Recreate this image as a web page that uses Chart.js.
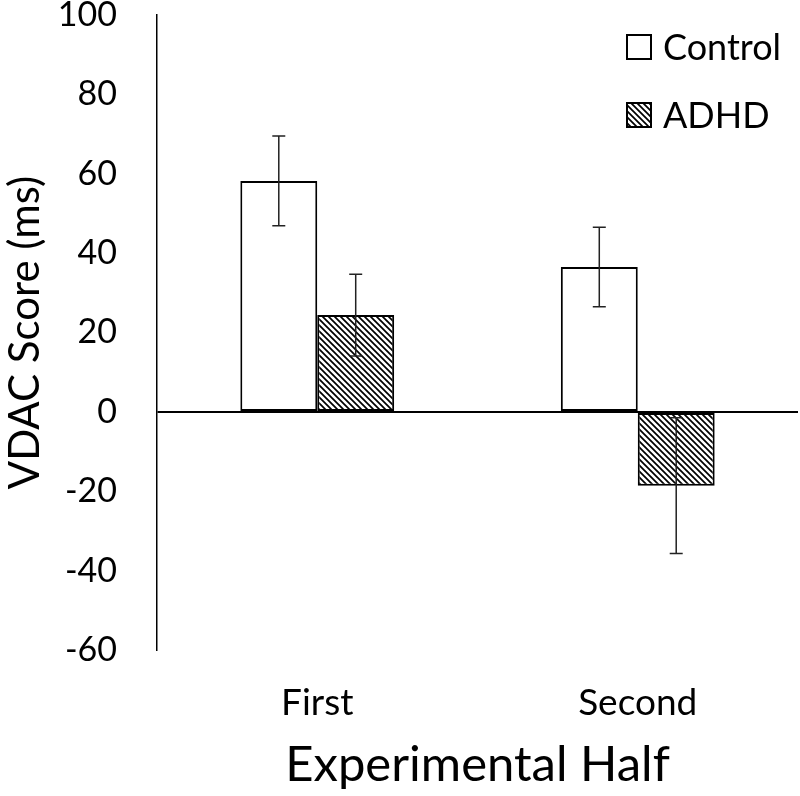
<!DOCTYPE html>
<html>
<head>
<meta charset="utf-8">
<script src="https://cdn.jsdelivr.net/npm/chart.js@4"></script>
<style>
  html, body { margin: 0; padding: 0; background: #fff; }
  #wrap { width: 800px; height: 796px; }
</style>
</head>
<body>
<div id="wrap"><canvas id="chart" width="800" height="796"></canvas></div>
<script>
// data
const halves = ["First", "Second"];
const controlScores = [58.2, 36.5];
const controlErr = [11.3, 10.0];
const adhdScores = [24.4, -18.6];
const adhdErr = [10.3, 17.1];
const yTicks = [100, 80, 60, 40, 20, 0, -20, -40, -60];

const FONT = "Lato, 'DejaVu Sans', sans-serif";

function makeHatch() {
  const c = document.createElement("canvas");
  c.width = 6;
  c.height = 6;
  const g = c.getContext("2d");
  g.fillStyle = "#fff";
  g.fillRect(0, 0, 6, 6);
  g.strokeStyle = "#000";
  g.lineWidth = 1.7;
  g.beginPath();
  g.moveTo(-1, -1); g.lineTo(7, 7);
  g.moveTo(-4, 2); g.lineTo(4, 10);
  g.moveTo(2, -4); g.lineTo(10, 4);
  g.stroke();
  return g.createPattern(c, "repeat");
}

const hatch = makeHatch();

const errorBars = {
  id: "errorBars",
  afterDatasetsDraw(chart) {
    const ctx = chart.ctx;
    const y = chart.scales.y;
    ctx.save();
    ctx.strokeStyle = "#222";
    ctx.lineWidth = 1.5;
    chart.data.datasets.forEach((ds, i) => {
      chart.getDatasetMeta(i).data.forEach((bar, j) => {
        const v = ds.data[j], e = ds.errors[j];
        const top = y.getPixelForValue(v + e);
        const bot = y.getPixelForValue(v - e);
        ctx.beginPath();
        ctx.moveTo(bar.x, top); ctx.lineTo(bar.x, bot);
        ctx.moveTo(bar.x - 6.5, top); ctx.lineTo(bar.x + 6.5, top);
        ctx.moveTo(bar.x - 6.5, bot); ctx.lineTo(bar.x + 6.5, bot);
        ctx.stroke();
      });
    });
    ctx.restore();
  }
};

const insideLegend = {
  id: "insideLegend",
  afterDraw(chart) {
    const ctx = chart.ctx;
    const area = chart.chartArea;
    const x = area.right - 171;
    ctx.save();
    ctx.font = "36px " + FONT;
    ctx.textBaseline = "middle";
    chart.data.datasets.forEach((ds, i) => {
      const cy = area.top + 32 + i * 68;
      ctx.fillStyle = ds.backgroundColor;
      ctx.fillRect(x, cy - 12, 24, 24);
      ctx.strokeStyle = "#000";
      ctx.lineWidth = 2;
      ctx.strokeRect(x, cy - 12, 24, 24);
      ctx.fillStyle = "#000";
      ctx.fillText(ds.label, x + 36, cy + 1);
    });
    ctx.restore();
  }
};

new Chart(document.getElementById("chart"), {
  type: "bar",
  data: {
    labels: halves,
    datasets: [
      {
        label: "Control",
        data: controlScores,
        errors: controlErr,
        backgroundColor: "#fff",
        borderColor: "#000",
        borderWidth: 2,
        borderSkipped: false
      },
      {
        label: "ADHD",
        data: adhdScores,
        errors: adhdErr,
        backgroundColor: hatch,
        borderColor: "#000",
        borderWidth: 2,
        borderSkipped: false
      }
    ]
  },
  options: {
    responsive: false,
    animation: false,
    layout: { padding: { top: 0, right: 2, bottom: 0, left: 0 } },
    plugins: {
      legend: { display: false },
      tooltip: { enabled: false }
    },
    datasets: {
      bar: { barPercentage: 1, categoryPercentage: 0.48 }
    },
    scales: {
      x: {
        grid: { display: false, drawTicks: false },
        border: { display: false },
        ticks: { color: "#000", font: { family: FONT, size: 37 }, padding: 31 },
        title: {
          display: true,
          text: "Experimental Half",
          color: "#000",
          font: { family: FONT, size: 49 },
          padding: { top: 6, bottom: 1 }
        },
        afterFit(scale) { scale.height = 146; }
      },
      y: {
        min: -60,
        max: 100,
        afterBuildTicks(scale) { scale.ticks = yTicks.map(v => ({ value: v })); },
        grid: {
          drawTicks: false,
          color: ctx => (ctx.tick && ctx.tick.value === 0 ? "#000" : "rgba(0,0,0,0)"),
          lineWidth: 2
        },
        border: { display: true, color: "#000", width: 1.5 },
        ticks: { color: "#000", font: { family: FONT, size: 34 }, padding: 40 },
        title: {
          display: true,
          text: "VDAC Score (ms)",
          color: "#000",
          font: { family: FONT, size: 42 },
          padding: { top: 0, bottom: 0 }
        },
        afterFit(scale) {
          scale.width = 157;
          scale.paddingTop = 15;
          scale.paddingBottom = 0;
        }
      }
    }
  },
  plugins: [errorBars, insideLegend]
});
</script>
</body>
</html>
